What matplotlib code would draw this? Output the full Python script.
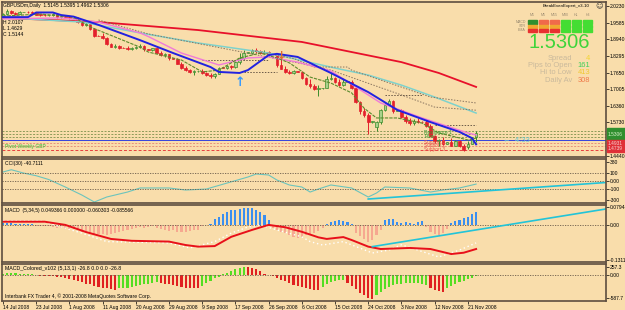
import matplotlib
matplotlib.use("Agg")
import matplotlib.pyplot as plt
from matplotlib.patches import Rectangle
import numpy as np

plt.rcParams['font.family'] = ['Liberation Sans', 'DejaVu Sans']

BG = '#f9ddab'
FRAME = '#5e4e40'

# GBPUSDm daily bars, one per trading day (sunday bars included)
opens = [1.9860, 1.9930, 2.0020, 1.9960, 1.9930, 2.0000, 2.0005, 1.9990, 1.9960, 1.9900,
         1.9890, 1.9870, 1.9875, 1.9920, 1.9800, 1.9860, 1.9810, 1.9760, 1.9765, 1.9600,
         1.9500, 1.9550, 1.9350, 1.9080, 1.9070, 1.9000, 1.8760, 1.8660, 1.8700, 1.8620,
         1.8610, 1.8560, 1.8620, 1.8630, 1.8700, 1.8550, 1.8545, 1.8590, 1.8420, 1.8320,
         1.8360, 1.8200, 1.8190, 1.8000, 1.7830, 1.7740, 1.7680, 1.7700, 1.7705, 1.7640,
         1.7570, 1.7530, 1.7600, 1.7850, 1.7840, 1.7920, 1.7860, 1.8050, 1.8200, 1.8420,
         1.8430, 1.8540, 1.8480, 1.8430, 1.8460, 1.8380, 1.8370, 1.7960, 1.7810, 1.7680,
         1.7640, 1.7700, 1.7690, 1.7450, 1.7230, 1.7120, 1.7030, 1.7050, 1.7060, 1.7420,
         1.7460, 1.7300, 1.7180, 1.7300, 1.7310, 1.7060, 1.6500, 1.6150, 1.6000, 1.5750,
         1.5550, 1.5740, 1.6200, 1.6400, 1.6560, 1.6180, 1.6190, 1.5930, 1.5790, 1.5700,
         1.5800, 1.5760, 1.5750, 1.5600, 1.5200, 1.5000, 1.5060, 1.4900, 1.4960, 1.4830,
         1.5000, 1.4820, 1.4780, 1.4900, 1.5145]
highs = [1.9960, 2.0107, 2.0060, 2.0000, 2.0030, 2.0010, 2.0040, 2.0030, 2.0010, 1.9940,
         1.9920, 1.9880, 1.9960, 1.9940, 1.9880, 1.9880, 1.9850, 1.9770, 1.9790, 1.9640,
         1.9600, 1.9580, 1.9380, 1.9090, 1.9180, 1.9020, 1.8800, 1.8760, 1.8720, 1.8630,
         1.8680, 1.8660, 1.8700, 1.8760, 1.8740, 1.8560, 1.8620, 1.8600, 1.8480, 1.8400,
         1.8380, 1.8210, 1.8210, 1.8050, 1.7900, 1.7790, 1.7760, 1.7710, 1.7790, 1.7690,
         1.7640, 1.7630, 1.7880, 1.7860, 1.7960, 1.7960, 1.8100, 1.8420, 1.8530, 1.8440,
         1.8580, 1.8620, 1.8520, 1.8520, 1.8500, 1.8390, 1.8380, 1.8170, 1.7900, 1.7740,
         1.7760, 1.7710, 1.7720, 1.7480, 1.7420, 1.7220, 1.7180, 1.7070, 1.7520, 1.7640,
         1.7500, 1.7420, 1.7430, 1.7320, 1.7360, 1.7100, 1.6560, 1.6300, 1.6100, 1.5790,
         1.5780, 1.6240, 1.6490, 1.6620, 1.6600, 1.6200, 1.6260, 1.6000, 1.5880, 1.5850,
         1.5900, 1.5770, 1.5820, 1.5650, 1.5260, 1.5100, 1.5150, 1.4970, 1.5120, 1.5060,
         1.5060, 1.4880, 1.5000, 1.5150, 1.5395]
lows = [1.9840, 1.9900, 1.9930, 1.9900, 1.9910, 1.9990, 1.9950, 1.9920, 1.9870, 1.9850,
        1.9840, 1.9860, 1.9850, 1.9780, 1.9770, 1.9780, 1.9730, 1.9750, 1.9570, 1.9470,
        1.9440, 1.9320, 1.9050, 1.9060, 1.8960, 1.8720, 1.8640, 1.8600, 1.8570, 1.8600,
        1.8520, 1.8540, 1.8580, 1.8600, 1.8500, 1.8540, 1.8500, 1.8400, 1.8290, 1.8250,
        1.8160, 1.8180, 1.7970, 1.7800, 1.7700, 1.7640, 1.7580, 1.7690, 1.7600, 1.7520,
        1.7450, 1.7440, 1.7590, 1.7830, 1.7790, 1.7790, 1.7830, 1.8000, 1.8150, 1.8400,
        1.8380, 1.8420, 1.8380, 1.8400, 1.8300, 1.8360, 1.7880, 1.7780, 1.7640, 1.7600,
        1.7610, 1.7680, 1.7400, 1.7180, 1.7060, 1.6980, 1.6760, 1.7030, 1.7040, 1.7360,
        1.7270, 1.7140, 1.7140, 1.7290, 1.7020, 1.6460, 1.6050, 1.5950, 1.5286, 1.5720,
        1.5380, 1.5680, 1.6150, 1.6380, 1.6100, 1.6160, 1.5890, 1.5700, 1.5640, 1.5620,
        1.5700, 1.5740, 1.5560, 1.5150, 1.4950, 1.4820, 1.4870, 1.4890, 1.4800, 1.4800,
        1.4780, 1.4629, 1.4700, 1.4890, 1.4962]
closes = [1.9930, 2.0020, 1.9960, 1.9930, 2.0000, 2.0005, 1.9990, 1.9960, 1.9900, 1.9890,
          1.9870, 1.9875, 1.9920, 1.9800, 1.9860, 1.9810, 1.9760, 1.9765, 1.9600, 1.9500,
          1.9550, 1.9350, 1.9080, 1.9070, 1.9000, 1.8760, 1.8660, 1.8700, 1.8620, 1.8610,
          1.8560, 1.8620, 1.8630, 1.8700, 1.8550, 1.8545, 1.8590, 1.8420, 1.8320, 1.8360,
          1.8200, 1.8190, 1.8000, 1.7830, 1.7740, 1.7680, 1.7700, 1.7705, 1.7640, 1.7570,
          1.7530, 1.7600, 1.7850, 1.7840, 1.7920, 1.7860, 1.8050, 1.8200, 1.8420, 1.8430,
          1.8540, 1.8480, 1.8430, 1.8460, 1.8380, 1.8370, 1.7960, 1.7810, 1.7680, 1.7640,
          1.7700, 1.7690, 1.7450, 1.7230, 1.7120, 1.7030, 1.7050, 1.7060, 1.7420, 1.7460,
          1.7300, 1.7180, 1.7300, 1.7310, 1.7060, 1.6500, 1.6150, 1.6000, 1.5750, 1.5770,
          1.5740, 1.6200, 1.6400, 1.6560, 1.6180, 1.6190, 1.5930, 1.5790, 1.5700, 1.5800,
          1.5760, 1.5750, 1.5600, 1.5200, 1.5000, 1.5060, 1.4900, 1.4960, 1.4830, 1.5000,
          1.4820, 1.4680, 1.4900, 1.5144, 1.5306]

# moving averages (bar index, price)
red_bars = [0, 23, 47, 72, 96, 105, 114]
red_vals = [1.977, 1.961, 1.930, 1.884, 1.806, 1.764, 1.710]
cyan_bars = [0, 19, 33, 47, 64, 80, 88, 96, 104, 114]
cyan_vals = [1.978, 1.961, 1.919, 1.880, 1.841, 1.783, 1.756, 1.717, 1.671, 1.609]
blue_bars = [0, 6, 8, 12, 14, 17, 23, 33, 41, 50, 52, 57, 59, 64, 66, 71, 76, 79, 88, 95, 103, 110, 113, 114]
blue_vals = [1.980, 1.980, 1.998, 1.998, 1.988, 1.982, 1.950, 1.891, 1.841, 1.787, 1.768, 1.764,
             1.775, 1.833, 1.838, 1.826, 1.787, 1.764, 1.690, 1.621, 1.574, 1.536, 1.512, 1.488]
pink_bars = [0, 14, 23, 33, 35, 43, 52, 59, 64, 71, 79, 91, 101, 112, 114]
pink_vals = [1.973, 1.977, 1.961, 1.919, 1.905, 1.841, 1.795, 1.822, 1.826, 1.806, 1.772,
             1.648, 1.590, 1.532, 1.524]
green_bars = [0, 9, 17, 21, 33, 35, 43, 48, 52, 57, 62, 66, 69, 74, 79, 84, 87, 90, 95, 101, 105, 112, 114]
green_vals = [1.984, 1.992, 1.980, 1.942, 1.864, 1.845, 1.814, 1.768, 1.775, 1.822, 1.841, 1.822,
              1.803, 1.748, 1.725, 1.687, 1.628, 1.590, 1.590, 1.570, 1.532, 1.505, 1.512]
dot1_bars = [23, 35, 56, 72, 79, 96, 104, 114]
dot1_vals = [1.969, 1.915, 1.850, 1.800, 1.775, 1.679, 1.632, 1.620]
dot2_bars = [60, 70, 75, 83, 84, 103, 114]
dot2_vals = [1.850, 1.820, 1.787, 1.787, 1.775, 1.671, 1.648]
seg_start = [48, 58, 92, 104]
seg_end = [64, 66, 101, 114]
seg_vals = [1.814, 1.768, 1.679, 1.563]
pivot_vals = [1.5395, 1.5298, 1.5182, 1.5047, 1.4931, 1.4815, 1.4660]
pivot_cols = ['#8c9a58', '#8c9a58', '#8c9a58', '#3344dd', '#e8907a', '#e8907a', '#e84040']
pivot_ls = [(0, (2, 1.5)), (0, (2, 1.5)), (0, (2, 1.5)), '-', (0, (2, 1.5)), (0, (2, 1.5)), (0, (3, 2))]

# CCI(30)
cci_bars = [0, 2, 5, 8, 11, 15, 19, 22, 25, 30, 33, 40, 44, 49, 54, 59, 61, 64, 66, 69, 72, 74,
            76, 79, 84, 88, 90, 92, 98, 103, 106, 110, 114]
cci_vals = [120, 150, 105, 70, 20, -80, -187, -280, -213, -147, -93, -93, -120, -107, -27, 53, 93,
            80, 13, -53, -80, -147, -107, -53, -93, -213, -160, -80, -93, -147, -120, -93, -41]

# MACD(5,34,5)
macd_hist = [0.006, 0.007, 0.006, 0.005, 0.005, 0.004, 0.003, 0.002,
             -0.003, -0.004, -0.006, -0.005, -0.008, -0.012, -0.011, -0.014,
             -0.017, -0.016, -0.021, -0.025, -0.024, -0.029, -0.034, -0.033,
             -0.036, -0.038, -0.035, -0.030, -0.026, -0.024, -0.021, -0.016,
             -0.012, -0.008, -0.010, -0.008, -0.006, -0.011, -0.016, -0.018,
             -0.022, -0.021, -0.026, -0.028, -0.027, -0.024, -0.020, -0.018,
             -0.004, 0.0, 0.004,
             0.022, 0.030, 0.042, 0.048, 0.055, 0.058, 0.060, 0.062, 0.064, 0.063, 0.058, 0.050, 0.038, 0.020,
             -0.010, -0.018, -0.026, -0.032, -0.038, -0.045, -0.048, -0.044, -0.040, -0.036, -0.030, -0.022, -0.012,
             0.004, 0.010, 0.014, 0.018, 0.016, 0.012, 0.002,
             -0.030, -0.042, -0.055, -0.066, -0.058, -0.040, -0.020,
             0.020, 0.024, 0.022, 0.012, 0.008, 0.010, 0.006, 0.004, 0.012, 0.014,
             -0.008, -0.028, -0.036, -0.040, -0.030, -0.016,
             0.008, 0.016, 0.020, 0.026, 0.030, 0.040, 0.049]
macd_line_bars = [0, 10, 15, 20, 26, 31, 40, 44, 47, 51, 55, 60, 64, 68, 72, 76, 78, 82, 84, 88,
                  91, 98, 103, 108, 111, 114]
macd_line_vals = [0.012, 0.012, 0.0, -0.027, -0.053, -0.060, -0.063, -0.076, -0.082, -0.080, -0.045,
                  -0.019, 0.0, -0.009, -0.026, -0.047, -0.053, -0.046, -0.057, -0.082, -0.091, -0.087,
                  -0.091, -0.110, -0.105, -0.091]
macd_sig_bars = [0, 9, 19, 25, 40, 45, 51, 55, 59, 62, 66, 72, 74, 77, 82, 89, 93, 96, 105, 110, 114]
macd_sig_vals = [0.016, 0.015, -0.031, -0.063, -0.068, -0.087, -0.063, -0.031, -0.008, 0.0, -0.019,
                 -0.045, -0.063, -0.076, -0.063, -0.106, -0.095, -0.075, -0.121, -0.095, -0.068]

# MACD_Colored_v102(5,13,1), g = rising, r = falling
mc_vals = [40, 45, 50, 45, 40, 35, 30, 20,
           -5, -10, -8, -15, -20, -30,
           -45, -60, -80, -100, -130, -160, -190, -210, -240, -260, -280, -300, -320, -335,
           -300, -290, -280, -270, -250, -230, -210, -190, -170, -150,
           -170, -190, -210, -230, -250, -270, -290, -300, -290, -280,
           -240, -180, -120, -70, -30,
           30, 60, 100, 140, 170, 190,
           190, 170, 140, 100,
           40, 10, -10,
           -60, -100, -140, -180, -220, -250, -270, -290, -310, -330, -340,
           -260, -200, -160, -120, -100, -110,
           -180, -250, -320, -400, -460, -520, -540,
           -440, -380, -320, -260, -220,
           -200, -190, -180, -170, -175, -185, -200, -220,
           -280, -330, -370, -380,
           -300, -250, -200, -160, -120, -90, -60, -27]
mc_cols = ('g' * 8 + 'r' * 6 + 'r' * 14 + 'g' * 10 + 'r' * 10 + 'g' * 5 + 'g' * 6 + 'r' * 4 + 'r' * 3
           + 'r' * 11 + 'g' * 6 + 'r' * 7 + 'g' * 5 + 'g' * 8 + 'r' * 4 + 'g' * 8)

date_labels = ["14 Jul 2008", "23 Jul 2008", "1 Aug 2008", "11 Aug 2008", "20 Aug 2008",
               "29 Aug 2008", "9 Sep 2008", "17 Sep 2008", "26 Sep 2008", "6 Oct 2008",
               "15 Oct 2008", "24 Oct 2008", "3 Nov 2008", "12 Nov 2008", "21 Nov 2008"]
price_ticks = [2.0230, 1.9585, 1.8940, 1.8295, 1.7650, 1.7005, 1.6360, 1.5730, 1.4440]
cci_ticks = [253, 100, 0, -100, -253]
cci_ticklabels = ["380", "100", "0.00", "-100", "-300"]
macd_ticks = [0.068, 0.0, -0.131]
macd_ticklabels = ["0.079486", "0.00", "-0.131132"]
mc_ticks = [190, 0, -520]
mc_ticklabels = ["257.3", "0.00", "-587.7"]

W, H = 625.0, 310.0
TICK_FS = 3.6


def box(l, t, r, b):
    return [l / W, 1 - b / H, (r - l) / W, (b - t) / H]


def ftxt(x, y, s, **kw):
    kw.setdefault('va', 'center')
    fig.text(x / W, 1 - y / H, s, **kw)


fig = plt.figure(figsize=(6.25, 3.1), dpi=100, facecolor=BG)
ax = fig.add_axes(box(2, 2, 606, 157))
ax_cci = fig.add_axes(box(2, 159, 606, 203))
ax_macd = fig.add_axes(box(2, 205, 606, 262))
ax_mc = fig.add_axes(box(2, 264, 606, 301))

for a in [ax, ax_cci, ax_macd, ax_mc]:
    a.set_facecolor(BG)
    for s in a.spines.values():
        s.set_color(FRAME)
        s.set_linewidth(1.2)
    a.yaxis.tick_right()
    a.tick_params(axis='y', length=2, width=0.5, labelsize=TICK_FS, pad=0.5, colors='black')
    a.set_xlim(-0.25, 145.3)
    a.set_xticks([])

# ---- main price panel
idx = np.arange(len(closes))
o = np.array(opens)
c = np.array(closes)
up = c >= o
edge = np.where(up, '#3c8c2a', '#e3202c')
face = np.where(up, '#a9d18b', '#e3202c')
ax.vlines(idx, lows, highs, colors=edge, lw=0.7, zorder=3)
ax.bar(idx, np.maximum(np.abs(c - o), 0.0012), bottom=np.minimum(o, c), width=0.62,
       color=face, edgecolor=edge, linewidth=0.5, zorder=4)

for v, col, ls in zip(pivot_vals, pivot_cols, pivot_ls):
    ax.axhline(v, color=col, lw=0.7, ls=ls, zorder=2)

ax.plot(red_bars, red_vals, color='#e8102a', lw=1.3, zorder=5)
ax.plot(cyan_bars, cyan_vals, color='#7ed2cc', lw=1.1, zorder=5)
ax.plot(dot1_bars, dot1_vals, color='#8a7560', lw=0.7, ls=(0, (1.5, 1.5)), zorder=5)
ax.plot(dot2_bars, dot2_vals, color='#8a7560', lw=0.7, ls=(0, (1.5, 1.5)), zorder=5)
for s0, s1, v in zip(seg_start, seg_end, seg_vals):
    ax.plot([s0, s1], [v, v], color='#6b5a48', lw=0.7, ls=(0, (1.5, 1.5)), zorder=5)
ax.plot(pink_bars, pink_vals, color='#f07ad8', lw=1.0, zorder=6)
ax.plot(green_bars, green_vals, color='#5c8a2c', lw=0.8, ls=(0, (3, 1)), zorder=6)
ax.plot(blue_bars, blue_vals, color='#2222e0', lw=1.4, zorder=7)
ax.set_ylim(1.439, 2.0385)
ax.set_yticks(price_ticks)
ax.set_yticklabels(["%.4f" % p for p in price_ticks])

# arrows
ax.text(57.1, 1.729, u"\u2191", color='#3399ff', fontsize=9, fontweight='bold',
        ha='center', va='center', family='DejaVu Sans', zorder=8)
ax.text(67.2, 1.830, u"\u2193", color='#e06a30', fontsize=8, fontweight='bold',
        ha='center', va='center', family='DejaVu Sans', zorder=8)

# pivot labels
ax.text(101.5, 1.5290, "Resistance 1", color='#2e9a2e', fontsize=3.4, zorder=8)
ax.text(101.5, 1.5120, "Pivot", color='#2e9a2e', fontsize=3.4, zorder=8)
ax.text(101.5, 1.4900, "Support 1", color='#e8504a', fontsize=3.4, zorder=8)
ax.text(101.5, 1.4760, "Support 2", color='#e8504a', fontsize=3.4, zorder=8)
ax.text(101.5, 1.4620, "Support 3", color='#e8504a', fontsize=3.4, zorder=8)
ax.text(120.5, 1.5047, u"\u2190  4:33", color='#6cc8d0', fontsize=5.5, va='center',
        family=['Liberation Sans', 'DejaVu Sans'], zorder=8)

ftxt(3, 5, "GBPUSDm,Daily  1.5145 1.5395 1.4962 1.5306", fontsize=3.6, color='black')
ftxt(3, 23, "H 2.0107", fontsize=3.6, color='black')
ftxt(3, 28.5, "L 1.4629", fontsize=3.6, color='black')
ftxt(3, 34, "C 1.5144", fontsize=3.6, color='black')
ftxt(5, 147, "Pivot Weekly GBP", fontsize=3.6, color='#33bb33')

# right side price boxes
fig.add_artist(Rectangle((607 / W, 1 - 140 / H), 18 / W, 12 / H, transform=fig.transFigure,
                         color='#2f8f2f', zorder=10))
fig.add_artist(Rectangle((607 / W, 1 - 152 / H), 18 / W, 12 / H, transform=fig.transFigure,
                         color='#e03038', zorder=10))
ftxt(608, 134, "1.5306", fontsize=3.5, color='#d8f0c8', zorder=11)
ftxt(608, 143.5, "1.4931", fontsize=3.5, color='#f8d0d0', zorder=11)
ftxt(608, 148.5, "1.4739", fontsize=3.5, color='#f8d0d0', zorder=11)

# BreakEvenExpert panel
ftxt(543, 6, "BreakEvenExpert_v3-10", fontsize=3.2, color='black')
ftxt(599.5, 6, u"\u263a", fontsize=5.2, color='#333333', ha='center', family='DejaVu Sans')
tf_labels = ["M1", "M5", "M15", "M30", "H1", "H4"]
row_labels = ["MACD", "STR", "EMA"]
cell_cols = [['#2f8f2f', '#f0a830', '#e83030'],
             ['#f06a4a', '#f0a830', '#e83030'],
             ['#f06a4a', '#f0a830', '#e83030'],
             ['#44dd33', '#44dd33', '#44dd33'],
             ['#44dd33', '#44dd33', '#44dd33'],
             ['#44dd33', '#44dd33', '#44dd33']]
for i, lab in enumerate(tf_labels):
    x0 = 528 + 11 * i
    ftxt(x0 + 4.5, 15, lab, fontsize=2.6, color='#9a8a70', ha='center')
    for j in range(3):
        y0 = 20.5 + 4.2 * j
        fig.add_artist(Rectangle((x0 / W, 1 - (y0 + 3.2) / H), 9 / W, 3.2 / H,
                                 transform=fig.transFigure, color=cell_cols[i][j]))
for j, lab in enumerate(row_labels):
    ftxt(526, 22 + 4.2 * j, lab, fontsize=2.6, color='#9a8a70', ha='right')

ftxt(590, 43, "1.5306", fontsize=14.5, color='#3fd43a', ha='right')
info_labels = ["Spread", "Pips to Open", "Hi to Low", "Daily Av"]
info_values = ["4", "161", "413", "308"]
info_cols = ['#f3d530', '#3fcf5a', '#f0c832', '#f07a4a']
for k in range(4):
    y = 58 + 7.4 * k
    ftxt(572, y, info_labels[k], fontsize=5.4, color='#c9b99c', ha='right')
    ftxt(590, y, info_values[k], fontsize=5.4, color=info_cols[k], ha='right')

# ---- CCI
ax_cci.plot(cci_bars, cci_vals, color='#6cc4bc', lw=0.8)
for lv in [100, 0, -100]:
    ax_cci.axhline(lv, color='#6a5a4a', lw=0.6, ls=(0, (1.5, 1.5)))
ax_cci.plot([88, 145.3], [-240, -20], color='#22c4d8', lw=1.2)
ax_cci.set_ylim(-293, 293)
ax_cci.set_yticks(cci_ticks)
ax_cci.set_yticklabels(cci_ticklabels)
ax_cci.text(0.005, 0.9, "CCI(30) -40.7111", transform=ax_cci.transAxes, fontsize=3.6, va='center')

# ---- MACD
hist = np.array(macd_hist)
ax_macd.bar(idx, hist, width=0.5, color=np.where(hist >= 0, '#3a8ef0', '#f6a890'), lw=0)
ax_macd.axhline(0, color='#6a5a4a', lw=0.6, ls=(0, (1.5, 1.5)))
ax_macd.plot(macd_sig_bars, macd_sig_vals, color='white', lw=1.0, ls=(0, (1, 2)))
ax_macd.plot(macd_line_bars, macd_line_vals, color='#e8101a', lw=1.4)
ax_macd.plot([89, 145.3], [-0.082, 0.060], color='#22c4d8', lw=1.2)
ax_macd.set_ylim(-0.14, 0.075)
ax_macd.set_yticks(macd_ticks)
ax_macd.set_yticklabels(macd_ticklabels)
ax_macd.text(0.005, 0.91, "MACD  (5,34,5) 0.049366 0.000000 -0.060303 -0.085566",
             transform=ax_macd.transAxes, fontsize=3.6, va='center')

# ---- MACD_Colored
mc = np.array(mc_vals)
ax_mc.bar(idx, mc, width=0.5, color=['#55dd22' if k == 'g' else '#e02020' for k in mc_cols], lw=0)
ax_mc.axhline(0, color='#6a5a4a', lw=0.6, ls=(0, (1.5, 1.5)))
ax_mc.set_ylim(-587.7, 257.3)
ax_mc.set_yticks(mc_ticks)
ax_mc.set_yticklabels(mc_ticklabels)
ax_mc.text(0.005, 0.89, "MACD_Colored_v102 (5,13,1) -26.8 0.0 0.0 -26.8",
           transform=ax_mc.transAxes, fontsize=3.8, va='center')
ax_mc.text(0.005, 0.13, u"Interbank FX Trader 4, \u00a9 2001-2008 MetaQuotes Software Corp.",
           transform=ax_mc.transAxes, fontsize=3.6, va='center')
ax_mc.set_xticks(np.arange(len(date_labels)) * 8)
ax_mc.set_xticklabels(date_labels, fontsize=3.6, ha='left')
ax_mc.tick_params(axis='x', length=2, width=0.5, pad=1)

fig.savefig("out.png", dpi=100, facecolor=BG)
